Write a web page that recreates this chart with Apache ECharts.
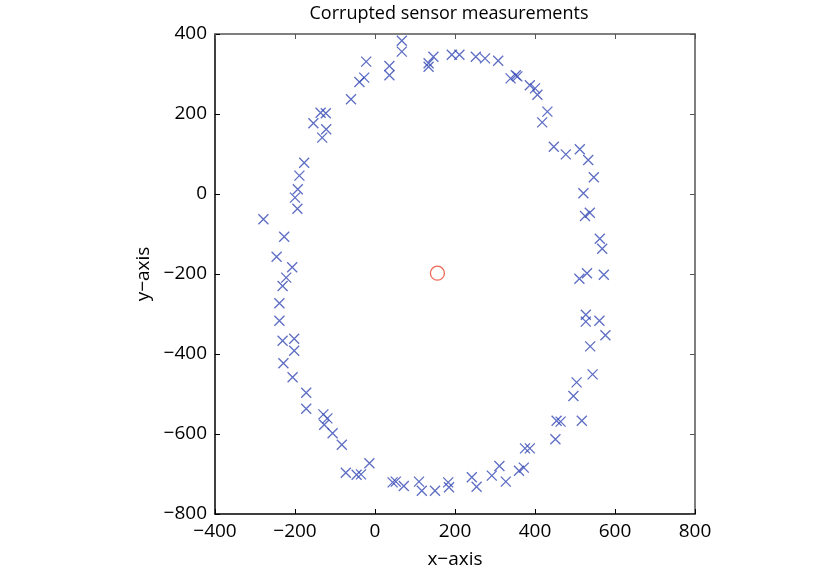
<!DOCTYPE html>
<html>
<head>
<meta charset="utf-8">
<script src="https://cdn.jsdelivr.net/npm/echarts@6/dist/echarts.min.js"></script>
<style>
  html, body { margin: 0; padding: 0; background: #fff; }
  #chart { width: 840px; height: 570px; }
</style>
</head>
<body>
<div id="chart"></div>
<script>
// measured x / y of the corrupted readings
const xs = [-279, -194, -200, -193, -189, -177, -132, -122, -154, -136,
  -123, -60, -39, -27, -22, 36, 36, 67, 67, 134,
  134, 146, 192, 211, 252, 275, 308, 339, 352, 356,
  387, 400, 406, 431, 418, 447, 477, 512, 533, 547,
  521, 537, 525, 562, 568, 530, 511, 572, 527, 527,
  561, 576, 538, 544, 504, 496, 517, 454, 464, 451,
  375, 387, 372, 360, 311, 292, 327, 242, 254, 183,
  185, 110, 117, 150, 72, 44, 52, -14, -35, -46,
  -73, -83, -106, -127, -119, -129, -172, -172, -206, -229,
  -202, -202, -231, -239, -239, -231, -222, -207, -246, -227];
const ys = [-63, -37, -9, 12, 46, 78, 141, 162, 177, 203,
  202, 237, 280, 291, 331, 320, 297, 383, 356, 318,
  327, 343, 348, 348, 343, 339, 333, 289, 297, 294,
  272, 264, 248, 206, 179, 118, 99, 112, 85, 42,
  2, -47, -55, -112, -137, -198, -212, -202, -302, -319,
  -317, -353, -381, -451, -471, -505, -567, -567, -569, -613,
  -636, -636, -684, -692, -680, -704, -719, -708, -732, -721,
  -733, -719, -742, -742, -730, -721, -719, -673, -701, -702,
  -697, -627, -598, -577, -561, -551, -537, -497, -458, -423,
  -392, -362, -367, -317, -273, -230, -209, -183, -157, -107];

const centre = [156, -198];

const xTicks = { min: -400, max: 800, interval: 200 };
const yTicks = { min: -800, max: 400, interval: 200 };

const font = '"Open Sans", "Noto Sans", sans-serif';
const minus = (v) => String(v).replace('-', '\u2212');

const chart = echarts.init(document.getElementById('chart'));

const baseAxis = (range, pos, showLabel, lineColor) => ({
  type: 'value',
  position: pos,
  min: range.min,
  max: range.max,
  interval: range.interval,
  splitLine: { show: false },
  axisLine: { show: true, onZero: false, lineStyle: { color: lineColor, width: 1.5 } },
  axisTick: { show: true, inside: true, length: 5, lineStyle: { color: lineColor } },
  axisLabel: {
    show: showLabel,
    color: '#000',
    fontSize: 19,
    fontFamily: font,
    margin: 8,
    formatter: minus
  }
});

chart.setOption({
  animation: false,
  backgroundColor: '#fff',
  title: {
    text: 'Corrupted sensor measurements',
    left: 444,
    top: 0,
    textAlign: 'center',
    textStyle: { color: '#000', fontSize: 18, fontWeight: 'normal', fontFamily: font }
  },
  grid: { left: 215, top: 34, width: 480, height: 480, containLabel: false, outerBoundsMode: 'none' },
  xAxis: [
    Object.assign(baseAxis(xTicks, 'bottom', true, '#000'), {
      name: 'x\u2212axis',
      nameLocation: 'middle',
      nameGap: 36,
      nameTextStyle: { color: '#000', fontSize: 19, fontFamily: font }
    }),
    baseAxis(xTicks, 'top', false, '#555')
  ],
  yAxis: [
    Object.assign(baseAxis(yTicks, 'left', true, '#000'), {
      name: 'y\u2212axis',
      nameLocation: 'middle',
      nameGap: 62,
      nameTextStyle: { color: '#000', fontSize: 19, fontFamily: font }
    }),
    baseAxis(yTicks, 'right', false, '#555')
  ],
  series: [
    {
      type: 'scatter',
      symbol: 'path://M0,0L10,10M10,0L0,10',
      symbolSize: 10,
      itemStyle: { color: 'none', borderColor: '#3448b4', borderWidth: 1.3 },
      data: xs.map((x, i) => [x, ys[i]])
    },
    {
      type: 'scatter',
      symbol: 'circle',
      symbolSize: 14,
      itemStyle: { color: 'none', borderColor: '#e8412a', borderWidth: 1.3 },
      data: [centre]
    }
  ]
});
</script>
</body>
</html>
